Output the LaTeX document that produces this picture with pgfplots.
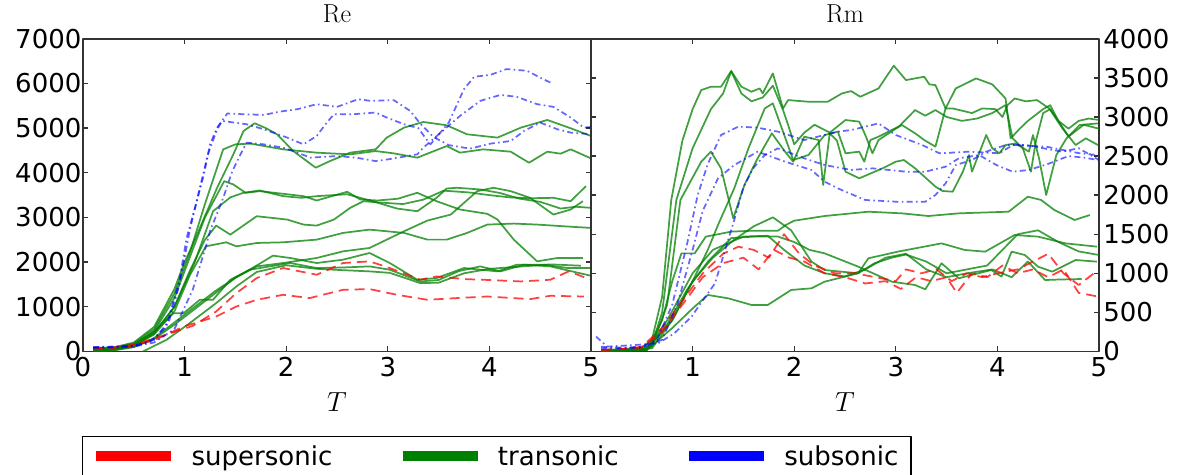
\documentclass[border=0pt]{standalone}
\usepackage{fontspec}
\usepackage{pgfplots}
\pgfplotsset{compat=1.18}
\newfontfamily\labelfont{DejaVu Sans}

\definecolor{supc}{rgb}{1,0,0}
\definecolor{trac}{rgb}{0,0.5,0}
\definecolor{subc}{rgb}{0,0,1}

\pgfplotsset{
  panel/.style={
    scale only axis, width=381pt, height=234.5pt,
    xmin=0, xmax=5, ymin=0,
    xtick={0,1,2,3,4,5},
    tick align=inside, major tick length=4pt,
    axis line style={line width=1.4pt, black!80},
    every tick/.style={black!80, line width=1pt},
    tick label style={font=\labelfont\fontsize{19.5}{22}\selectfont},
    /pgf/number format/assume math mode=true,
    /pgf/number format/1000 sep={},
    scaled y ticks=false,
    xticklabel style={inner sep=1pt, yshift=-3pt},
    title style={font=\fontsize{19.5}{22}\selectfont, at={(0.5,1)}, anchor=base, yshift=6pt},
    xlabel={$T$},
    xlabel style={font=\fontsize{19.5}{22}\selectfont, at={(0.5,0)}, anchor=base, yshift=-45pt},
    line join=round,
  },
  sup/.style={supc, line width=1.3pt, dash pattern=on 7.5pt off 4.5pt, opacity=0.75},
  tra/.style={trac, line width=1.3pt, opacity=0.75},
  sub/.style={subc, line width=1.3pt, dash pattern=on 4.5pt off 2.5pt on 1.2pt off 2.5pt, opacity=0.6},
}

\begin{document}
\begin{tikzpicture}
\useasboundingbox (-62.25pt,-92.6pt) rectangle (822pt,263.6pt);

% ---------------- Re ----------------
\begin{axis}[panel, name=re, at={(0pt,0pt)},
  ymax=7000, ytick={0,1000,...,7000},
  yticklabel style={inner sep=1pt, xshift=0pt},
  title={$\mathrm{Re}$},
  legend columns=3,
  legend style={at={(0,0)}, anchor=north west, xshift=-0.75pt, yshift=-63.4pt,
    draw=black, line width=1pt, inner xsep=6.5pt, inner ysep=3.5pt,
    font=\labelfont\fontsize{19.5}{22}\selectfont,
    nodes={inner sep=3pt},
    /tikz/every odd column/.append style={column sep=8.5pt},
    /tikz/every even column/.append style={column sep=46pt}},
  legend image code/.code={\draw[#1, line width=7.5pt, solid] (0pt,0pt) -- (56.25pt,0pt);},
]
\addlegendimage{supc}\addlegendentry{supersonic}
\addlegendimage{trac}\addlegendentry{transonic}
\addlegendimage{subc}\addlegendentry{subsonic}

% transonic runs
\addplot[tra] coordinates {(0.1,80)(0.3,90)(0.5,200)(0.7,550)(0.9,1400)(1.0,2000)(1.08,2392)(1.32,3665)(1.48,4413)(1.58,4936)(1.69,5109)(1.8,5000)(1.91,4862)(2.07,4487)(2.29,4114)(2.43,4262)(2.63,4451)(2.88,4525)(2.99,4788)(3.16,5012)(3.35,5138)(3.58,5064)(3.78,4862)(4.08,4788)(4.31,5012)(4.57,5183)(4.8,4997)(5.0,4824)};
\addplot[tra] coordinates {(0.1,60)(0.3,80)(0.5,180)(0.7,500)(0.9,1300)(1.05,2200)(1.2,3300)(1.38,4525)(1.5,4637)(1.65,4653)(1.97,4525)(2.3,4451)(2.63,4413)(2.88,4487)(3.06,4435)(3.29,4339)(3.58,4599)(3.71,4451)(3.94,4525)(4.21,4473)(4.39,4226)(4.57,4473)(4.7,4428)(4.8,4525)(5.0,4323)};
\addplot[tra] coordinates {(0.1,50)(0.3,70)(0.5,150)(0.7,450)(0.9,1200)(1.05,2100)(1.2,3000)(1.39,3813)(1.48,3739)(1.6,3553)(1.74,3589)(1.97,3530)(2.17,3477)(2.3,3380)(2.6,3575)(2.73,3402)(2.9,3380)(3.1,3420)(3.29,3553)(3.48,3364)(3.71,3178)(3.98,3081)(4.08,2953)(4.24,2504)(4.47,2017)(4.67,2093)(4.92,2093)};
\addplot[tra] coordinates {(0.1,40)(0.3,60)(0.5,120)(0.7,400)(0.9,1000)(1.1,2000)(1.28,3140)(1.45,3450)(1.58,3553)(1.74,3604)(1.97,3477)(2.15,3440)(2.3,3477)(2.6,3520)(2.85,3364)(3.09,3200)(3.29,3140)(3.48,3440)(3.58,3649)(3.68,3665)(3.91,3627)(4.1,3550)(4.3,3420)(4.5,3350)(4.7,3200)(4.85,3240)(5.0,3216)};
\addplot[tra] coordinates {(0.1,50)(0.3,60)(0.5,150)(0.7,420)(0.9,1000)(1.05,1800)(1.2,2500)(1.31,2818)(1.45,2616)(1.71,3028)(2.01,2953)(2.17,2841)(2.3,2818)(2.47,2953)(2.63,3216)(2.76,3364)(2.95,3330)(3.15,3300)(3.35,3400)(3.55,3600)(3.8,3560)(4.0,3500)(4.2,3450)(4.4,3430)(4.63,3440)(4.8,3364)(4.95,3701)};
\addplot[tra] coordinates {(0.1,30)(0.3,50)(0.5,130)(0.7,380)(0.9,900)(1.05,1700)(1.21,2354)(1.41,2444)(1.51,2354)(1.71,2429)(1.97,2444)(2.3,2504)(2.56,2654)(2.82,2728)(3.16,2654)(3.39,2504)(3.58,2504)(3.78,2654)(3.98,2841)(4.24,2863)(4.47,2841)(4.73,2803)(5.0,2766)};
\addplot[tra] coordinates {(0.1,20)(0.3,40)(0.5,100)(0.7,280)(0.9,600)(1.1,950)(1.3,1300)(1.5,1650)(1.71,1905)(1.97,1980)(2.3,2093)(2.56,2242)(2.82,2317)(3.16,2691)(3.39,2931)(3.62,3065)(3.88,3589)(4.04,3665)(4.21,3589)(4.4,3440)(4.63,3065)(4.8,3178)(4.92,3364)};
\addplot[tra] coordinates {(0.1,0)(0.3,30)(0.5,150)(0.7,450)(0.89,857)(0.99,857)(1.15,1157)(1.28,1157)(1.45,1606)(1.64,1830)(1.87,2145)(2.04,2093)(2.3,1980)(2.56,2055)(2.82,2205)(3.02,1980)(3.29,1606)(3.48,1644)(3.75,1868)(4.08,1793)(4.27,1943)(4.54,1943)(4.77,1868)(5.0,1868)};
\addplot[tra] coordinates {(0.1,0)(0.3,20)(0.5,100)(0.7,300)(0.9,650)(1.1,1000)(1.3,1350)(1.5,1650)(1.64,1830)(2.04,1980)(2.3,1868)(2.56,1880)(2.82,1905)(3.02,1830)(3.32,1568)(3.5,1600)(3.7,1800)(3.91,1905)(4.11,1793)(4.34,1943)(4.6,1905)(4.8,1800)(5.0,1695)};
\addplot[tra] coordinates {(0.59,0)(0.82,258)(1.05,633)(1.31,1082)(1.51,1456)(1.71,1780)(2.0,1930)(2.3,1850)(2.56,1820)(2.82,1793)(3.02,1760)(3.32,1530)(3.5,1540)(3.75,1750)(4.0,1850)(4.3,1900)(4.6,1950)(4.9,1920)};

% supersonic runs
\addplot[sup] coordinates {(0.1,80)(0.3,90)(0.5,150)(0.76,333)(1.08,573)(1.31,894)(1.51,1307)(1.71,1644)(1.97,1868)(2.3,1718)(2.56,1980)(2.82,2017)(3.02,1868)(3.32,1606)(3.48,1680)(3.75,1621)(4.0,1600)(4.31,1568)(4.6,1606)(4.78,1793)(5.0,1606)};
\addplot[sup] coordinates {(0.1,70)(0.3,80)(0.5,130)(0.7,250)(0.99,557)(1.31,782)(1.51,1007)(1.71,1157)(1.97,1269)(2.23,1195)(2.56,1381)(2.82,1397)(3.09,1269)(3.39,1157)(3.68,1195)(3.98,1231)(4.4,1172)(4.6,1246)(4.93,1231)};

% subsonic runs
\addplot[sub] coordinates {(0.1,100)(0.3,110)(0.5,130)(0.66,220)(0.82,557)(0.95,1606)(1.02,2542)(1.12,3364)(1.19,3964)(1.25,4637)(1.32,5012)(1.42,5327)(1.58,5311)(1.78,5296)(1.94,5371)(2.11,5424)(2.3,5536)(2.5,5476)(2.71,5648)(2.83,5610)(3.06,5626)(3.22,5386)(3.32,5100)(3.45,4800)(3.6,4620)(3.81,4541)(4.01,4653)(4.21,4712)(4.34,4936)(4.5,5125)(4.67,4974)(4.8,4900)(5.0,4862)};
\addplot[sub] coordinates {(0.1,90)(0.3,100)(0.5,120)(0.7,260)(0.85,700)(0.95,1500)(1.05,2700)(1.15,3665)(1.23,4413)(1.32,4974)(1.37,5161)(1.61,5087)(1.78,4974)(2.01,4788)(2.17,4637)(2.3,4824)(2.4,5125)(2.47,5311)(2.66,5311)(2.88,5350)(2.99,5237)(3.16,5087)(3.3,5000)(3.38,4750)(3.42,4637)(3.6,5125)(3.75,5873)(3.85,6149)(4.01,6194)(4.17,6322)(4.37,6284)(4.53,6097)(4.62,6000)};
\addplot[sub] coordinates {(0.1,80)(0.3,90)(0.5,110)(0.7,200)(0.9,500)(1.08,1381)(1.21,2354)(1.25,2691)(1.38,3440)(1.47,4038)(1.55,4413)(1.61,4675)(1.78,4637)(1.97,4563)(2.11,4451)(2.24,4339)(2.5,4375)(2.69,4339)(2.88,4262)(3.0,4300)(3.29,4413)(3.35,4563)(3.71,5273)(3.91,5610)(4.11,5745)(4.27,5700)(4.47,5536)(4.63,5476)(4.8,5237)(4.93,5012)(5.0,5026)};
\end{axis}

% ---------------- Rm ----------------
\begin{axis}[panel, name=rm, at={(381pt,0pt)},
  ymax=4000, ytick={0,500,...,4000},
  yticklabel pos=right,
  yticklabel style={inner sep=1pt, xshift=2pt},
  xticklabels={,1,2,3,4,5},
  title={$\mathrm{Rm}$},
]
% transonic runs
\addplot[tra] coordinates {(0.1,20)(0.3,30)(0.5,50)(0.6,150)(0.7,700)(0.79,1938)(0.9,2700)(1.0,3100)(1.085,3344)(1.18,3387)(1.28,3387)(1.38,3587)(1.48,3387)(1.58,3323)(1.66,3365)(1.69,3301)(1.79,3557)(1.89,3109)(1.94,3216)(2.14,3195)(2.33,3195)(2.47,3301)(2.56,3331)(2.65,3259)(2.83,3365)(2.98,3656)(3.10,3472)(3.28,3515)(3.33,3417)(3.39,3408)(3.49,3109)(3.56,3109)(3.75,3050)(3.85,3109)(3.98,3100)(4.05,3000)(4.1,3152)(4.17,3237)(4.28,3200)(4.39,3216)(4.51,3109)(4.64,2854)(4.77,2641)(4.87,2726)(4.99,2641)};
\addplot[tra] coordinates {(0.1,10)(0.3,20)(0.5,40)(0.6,80)(0.7,500)(0.84,1938)(1.0,2600)(1.18,3100)(1.3,3300)(1.38,3587)(1.48,3300)(1.58,3200)(1.69,3250)(1.79,3400)(1.89,3088)(1.94,2900)(2.0,2650)(2.1,2800)(2.2,2900)(2.35,2800)(2.505,2961)(2.64,2940)(2.70,2769)(2.77,2535)(2.83,2705)(3.03,2876)(3.19,3088)(3.29,3016)(3.39,3088)(3.5,3000)(3.65,2950)(3.8,2980)(3.95,3050)(4.08,3152)(4.15,2726)(4.25,2600)(4.33,2300)(4.38,2700)(4.45,3050)(4.52,3100)(4.6,2950)(4.7,2750)(4.85,2900)(5.0,2850)};
\addplot[tra] coordinates {(0.1,10)(0.3,10)(0.5,30)(0.6,40)(0.8,400)(1.0,900)(1.15,1300)(1.25,1618)(1.41,2087)(1.55,2600)(1.71,3109)(1.79,3174)(1.89,2812)(1.99,2450)(2.14,2513)(2.30,2769)(2.43,2812)(2.505,2535)(2.64,2556)(2.69,2428)(2.75,2705)(2.83,2748)(3.06,2897)(3.19,2791)(3.28,2705)(3.39,2620)(3.49,3109)(3.59,3365)(3.79,3493)(3.95,3417)(4.08,3237)(4.13,2726)(4.22,2850)(4.3,2950)(4.45,3100)(4.52,3150)(4.6,2950)(4.7,2850)(4.8,2950)(4.9,2980)(5.0,2961)};
\addplot[tra] coordinates {(0.1,0)(0.3,10)(0.5,30)(0.6,60)(0.75,600)(0.88,1938)(1.085,2428)(1.18,2556)(1.28,2343)(1.40,1704)(1.51,2130)(1.64,2471)(1.78,2791)(1.91,2556)(1.99,2428)(2.10,2748)(2.24,2705)(2.285,2130)(2.35,2791)(2.42,2700)(2.505,2300)(2.64,2215)(2.87,2343)(3.0,2428)(3.08,2449)(3.19,2343)(3.39,2109)(3.46,2053)(3.56,2044)(3.66,2300)(3.72,2513)(3.75,2300)(3.89,2769)(3.95,2599)(4.02,2535)(4.08,2641)(4.18,2662)(4.31,2556)(4.35,2769)(4.41,2471)(4.48,2001)(4.58,2513)(4.68,2726)(4.81,2897)(4.99,2918)};
\addplot[tra] coordinates {(0.1,10)(0.3,10)(0.55,20)(0.7,400)(0.8,900)(0.89,1255)(1.02,1255)(1.13,1469)(1.38,1533)(1.6,1545)(1.84,1545)(1.92,1620)(2.0,1673)(2.3,1733)(2.73,1788)(3.06,1767)(3.32,1733)(3.62,1767)(4.11,1788)(4.30,1980)(4.43,1938)(4.56,1810)(4.76,1682)(4.91,1746)};
\addplot[tra] coordinates {(0.1,10)(0.3,10)(0.55,30)(0.8,400)(1.0,900)(1.2,1200)(1.4,1420)(1.6,1600)(1.79,1716)(1.97,1550)(2.17,1149)(2.30,1042)(2.63,1000)(2.73,1192)(3.02,1277)(3.45,1383)(3.68,1298)(3.88,1277)(4.17,1490)(4.40,1469)(4.67,1383)(4.98,1341)};
\addplot[tra] coordinates {(0.1,0)(0.3,10)(0.55,20)(0.75,350)(0.95,800)(1.15,1150)(1.38,1450)(1.6,1470)(1.84,1470)(2.0,1400)(2.15,1300)(2.30,1255)(2.63,1085)(2.96,893)(3.19,850)(3.29,795)(3.45,1128)(3.62,936)(3.94,1042)(4.04,957)(4.14,1277)(4.27,1234)(4.40,1085)(4.54,1021)(4.77,1170)(4.98,1149)};
\addplot[tra] coordinates {(0.1,0)(0.3,10)(0.55,30)(0.75,400)(1.0,1000)(1.2,1300)(1.5,1470)(1.74,1480)(1.9,1300)(2.1,1100)(2.3,1000)(2.5,960)(2.7,1050)(2.9,1200)(3.1,1250)(3.3,1050)(3.5,950)(3.7,1000)(3.95,1050)(4.14,950)(4.3,1150)(4.47,914)(4.6,920)(4.83,927)};
\addplot[tra] coordinates {(0.1,0)(0.3,10)(0.55,20)(0.8,300)(1.0,550)(1.15,723)(1.35,680)(1.58,595)(1.74,595)(1.97,787)(2.17,808)(2.30,893)(2.63,1000)(2.79,1128)(2.96,1200)(3.1,1240)(3.3,1150)(3.5,1000)(3.7,1050)(3.9,1100)(4.05,1300)(4.2,1500)(4.4,1550)(4.6,1400)(4.8,1280)(5.0,1234)};

% supersonic runs
\addplot[sup] coordinates {(0.1,20)(0.3,30)(0.5,60)(0.7,300)(0.9,650)(1.1,1000)(1.3,1250)(1.45,1340)(1.6,1300)(1.75,1200)(1.9,1500)(2.05,1250)(2.2,1100)(2.4,1000)(2.6,1000)(2.8,950)(3.0,900)(3.1,1050)(3.25,1000)(3.4,1050)(3.55,900)(3.7,1000)(3.85,950)(4.0,1000)(4.2,1050)(4.35,1150)(4.5,1250)(4.65,1000)(4.8,850)(4.95,1000)};
\addplot[sup] coordinates {(0.1,20)(0.3,30)(0.5,50)(0.7,250)(0.9,600)(1.1,950)(1.3,1130)(1.5,1200)(1.65,1050)(1.8,1300)(1.95,1200)(2.1,1150)(2.3,1000)(2.5,950)(2.7,870)(2.9,900)(3.05,800)(3.2,950)(3.35,900)(3.5,950)(3.6,750)(3.75,1000)(3.9,950)(4.05,1100)(4.2,1000)(4.35,1050)(4.5,950)(4.65,1050)(4.8,750)(5.0,700)};

% subsonic runs
\addplot[sub] coordinates {(0.1,60)(0.3,50)(0.5,60)(0.65,150)(0.8,600)(0.95,1400)(1.05,2000)(1.15,2400)(1.28,2769)(1.45,2876)(1.64,2863)(1.84,2812)(2.10,2705)(2.43,2812)(2.56,2833)(2.70,2876)(2.83,2918)(3.0,2769)(3.26,2641)(3.43,2535)(3.72,2556)(4.02,2535)(4.15,2641)(4.48,2620)(4.81,2535)(4.99,2513)};
\addplot[sub] coordinates {(0.1,40)(0.3,40)(0.5,50)(0.7,150)(0.85,600)(1.0,1300)(1.1,1800)(1.25,2215)(1.41,2385)(1.64,2556)(1.91,2428)(2.17,2322)(2.30,2172)(2.43,2087)(2.505,2044)(2.70,1938)(3.0,1916)(3.29,1916)(3.39,2001)(3.49,2151)(3.59,2385)(3.75,2450)(3.89,2556)(4.08,2641)(4.28,2641)(4.45,2600)(4.64,2556)(4.8,2600)(5.0,2450)};
\addplot[sub] coordinates {(0.05,190)(0.16,62)(0.4,80)(0.66,104)(0.82,232)(0.99,446)(1.08,616)(1.22,870)(1.31,1255)(1.41,1682)(1.5,2100)(1.6,2350)(1.71,2513)(1.84,2599)(2.10,2471)(2.30,2385)(2.56,2322)(2.77,2343)(3.10,2300)(3.29,2300)(3.49,2364)(3.62,2471)(3.82,2513)(3.99,2385)(4.15,2300)(4.31,2322)(4.5,2400)(4.7,2500)(4.85,2480)(4.99,2450)};
\end{axis}
\end{tikzpicture}
\end{document}
